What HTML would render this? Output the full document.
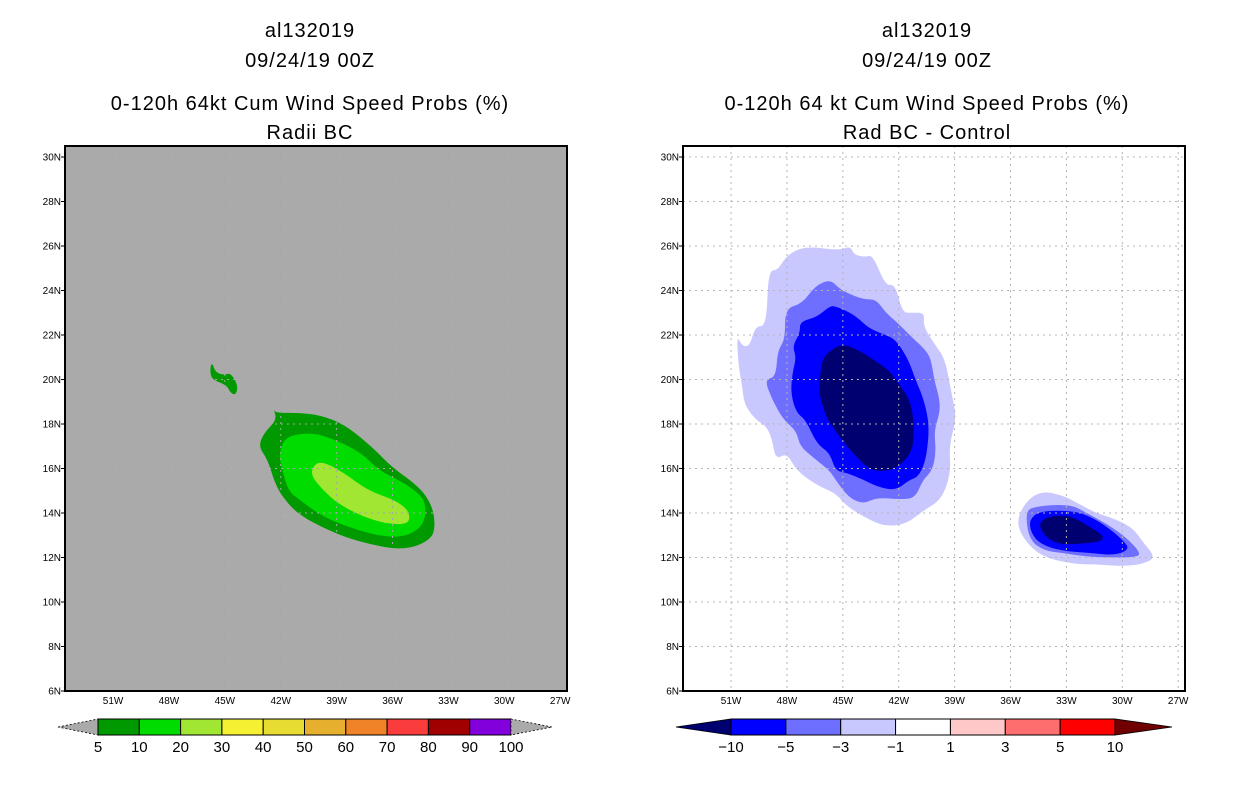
<!DOCTYPE html>
<html><head><meta charset="utf-8">
<style>
html,body{margin:0;padding:0;background:#fff;}
svg{display:block;font-family:"Liberation Sans",sans-serif;}
</style></head>
<body>
<svg id="root" width="1236" height="800" viewBox="0 0 1236 800" xmlns="http://www.w3.org/2000/svg">
<g id="titles" font-size="20" text-anchor="middle" fill="#000" letter-spacing="1">
  <text x="310" y="37">al132019</text>
  <text x="310" y="67">09/24/19 00Z</text>
  <text x="310" y="110">0-120h 64kt Cum Wind Speed Probs (%)</text>
  <text x="310" y="139">Radii BC</text>
  <text x="927" y="37">al132019</text>
  <text x="927" y="67">09/24/19 00Z</text>
  <text x="927" y="110">0-120h 64 kt Cum Wind Speed Probs (%)</text>
  <text x="927" y="139">Rad BC - Control</text>
</g>
<g id="left"></g>
<g id="right"></g>
<g id="cbL"></g>
<g id="cbR"></g>
</svg>
<script>
// ---- data (lon in degrees West, lat in degrees North) ----
const latTicks = [6,8,10,12,14,16,18,20,22,24,26,28,30];
const lonTicks = [51,48,45,42,39,36,33,30,27];

const probLevels = ["5","10","20","30","40","50","60","70","80","90","100"];
const probColors = ["#009a00","#00dc00","#a0e632","#f5f032","#e6dc32","#e6af2d","#f08228","#fa3c3c","#a00000","#8200dc"];
const diffLevels = ["-10","-5","-3","-1","1","3","5","10"];
const diffColors = ["#000070","#0000ff","#6e6eff","#c8c8ff","#ffffff","#ffc8c8","#ff6e6e","#ff0000","#700000"];

const prob5 = [[42.4,18.7],[42.3,18.5],[41.0,18.5],[39.9,18.4],[38.6,18.0],[37.0,16.9],[36.1,16.1],[34.6,15.2],[33.9,14.4],[33.7,13.5],[33.9,12.8],[35.4,12.3],[37.8,12.7],[39.4,13.2],[41.0,13.9],[41.8,14.6],[42.3,15.3],[42.7,16.4],[43.2,17.0],[42.9,17.6],[42.2,18.2]];
const prob5Island = [[45.7,20.8],[45.5,20.3],[45.0,20.2],[44.7,20.3],[44.3,19.75],[44.4,19.3],[44.7,19.4],[44.9,19.75],[45.7,20.0],[45.8,20.4]];
const prob10 = [[41.8,17.4],[40.7,17.6],[39.7,17.5],[37.8,16.8],[36.7,15.9],[35.7,15.5],[34.6,14.9],[34.2,14.4],[34.3,13.5],[35.1,13.0],[36.2,12.9],[37.8,13.2],[39.7,13.8],[41.0,14.6],[41.6,15.0],[41.9,15.9],[42.1,16.6]];
const prob20 = [[40.2,16.2],[39.7,16.3],[38.6,15.8],[37.3,15.0],[35.9,14.6],[35.1,14.1],[35.1,13.5],[36.2,13.5],[37.5,13.8],[38.9,14.4],[39.7,15.0],[40.4,15.7]];

const diffNeg1 = [[50.7,22.0],[50.4,21.5],[50.0,21.5],[49.7,22.4],[49.1,22.4],[49.0,24.9],[48.5,24.9],[48.0,25.6],[47.0,26.0],[45.2,25.8],[44.6,26.0],[44.4,25.6],[43.8,25.5],[43.4,25.6],[42.7,24.2],[42.2,24.3],[41.8,23.0],[41.3,23.0],[40.6,23.0],[40.7,22.4],[40.0,21.5],[39.5,20.9],[39.1,19.1],[38.9,18.3],[39.3,17.0],[39.2,15.8],[39.7,14.6],[40.7,14.1],[41.6,13.5],[42.7,13.4],[43.6,13.7],[44.8,14.3],[45.4,14.9],[46.3,15.2],[47.5,15.9],[48.0,16.7],[48.6,16.4],[48.8,17.3],[49.1,17.9],[49.7,18.2],[50.3,18.9],[50.4,19.7],[50.6,20.6]];
const diffNeg3 = [[49.2,20.0],[48.6,20.1],[48.5,21.3],[48.1,21.8],[48.1,23.2],[47.2,23.4],[46.5,24.2],[45.7,24.5],[45.2,24.1],[44.8,23.9],[43.9,23.6],[43.2,23.6],[42.7,23.0],[42.0,22.5],[41.3,21.9],[40.4,21.2],[40.2,20.6],[40.1,20.0],[39.8,19.1],[39.8,18.5],[40.1,17.7],[40.0,16.7],[40.2,15.9],[40.7,15.5],[41.1,14.7],[41.8,14.6],[43.2,14.7],[43.9,14.4],[44.7,14.7],[45.4,15.5],[45.7,15.9],[46.6,16.5],[47.3,17.0],[47.5,17.7],[48.2,18.2],[48.8,19.1]];
const diffNeg5 = [[47.7,21.5],[47.3,22.1],[47.3,22.6],[46.4,22.8],[45.7,23.3],[45.4,23.3],[44.6,23.0],[44.1,22.7],[43.6,22.3],[42.7,22.0],[42.2,21.8],[41.7,21.2],[41.4,20.7],[41.1,20.0],[40.7,19.2],[40.4,18.2],[40.4,17.3],[40.6,16.2],[41.0,15.6],[41.4,15.5],[42.2,15.0],[43.2,15.2],[43.9,15.5],[44.8,15.8],[45.4,15.9],[45.7,16.7],[46.4,17.1],[47.0,18.2],[47.5,18.5],[47.8,19.4],[47.7,20.3],[47.5,21.0]];
const diffNeg10 = [[46.1,20.9],[45.7,21.3],[45.0,21.6],[44.1,21.3],[43.2,20.8],[42.5,20.4],[42.0,19.8],[41.4,19.1],[41.2,18.2],[41.2,17.0],[41.6,16.4],[42.2,16.0],[42.7,15.9],[43.4,15.9],[43.9,16.2],[44.8,17.0],[45.4,17.7],[45.9,18.3],[46.3,19.4],[46.2,20.3]];
const diffB_neg1 = [[35.7,13.5],[35.3,14.4],[34.4,15.0],[33.2,14.8],[32.3,14.4],[31.4,14.0],[30.3,13.7],[29.4,13.3],[28.9,12.7],[28.2,12.0],[28.9,11.7],[30.1,11.6],[31.4,11.7],[32.6,11.7],[34.2,12.0],[35.1,12.6]];
const diffB_neg3 = [[35.2,14.0],[34.8,14.3],[32.8,14.4],[31.9,14.0],[30.8,13.5],[29.8,12.9],[29.1,12.3],[29.1,12.0],[31.6,12.0],[33.2,12.2],[34.2,12.3],[35.0,12.8]];
const diffB_neg5 = [[35.0,13.7],[34.4,14.1],[32.6,14.1],[31.6,13.8],[30.7,13.3],[30.0,12.8],[29.6,12.4],[30.3,12.1],[31.7,12.2],[33.3,12.3],[34.4,12.6],[34.9,13.1]];
const diffB_neg10 = [[34.5,13.5],[34.1,13.8],[33.3,13.9],[32.6,13.8],[32.0,13.5],[31.2,13.1],[31.0,12.9],[31.2,12.7],[32.5,12.6],[33.5,12.6],[34.2,13.0]];

// ---- axes ----
const FRAME_TOP = 146, FRAME_BOT = 691, FRAME_W = 502;
const LON_MIN = 53.58, PX_PER_LON = 18.63, PX_PER_LAT = 22.25;
function xScale(x0, lonW){ return x0 + (LON_MIN - lonW) * PX_PER_LON; }
function yScale(lat){ return FRAME_BOT - (lat - 6) * PX_PER_LAT; }
const NS = "http://www.w3.org/2000/svg";
function mk(tag, attrs, parent){
  const e = document.createElementNS(NS, tag);
  for (const k in attrs) e.setAttribute(k, attrs[k]);
  parent.appendChild(e); return e;
}
function polyPath(x0, pts){
  // smooth closed curve through midpoints
  const P = pts.map(p=>[xScale(x0,p[0]), yScale(p[1])]);
  const n = P.length;
  const mid = i => { const a=P[i%n], b=P[(i+1)%n]; return [(a[0]+b[0])/2,(a[1]+b[1])/2]; };
  let m = mid(0);
  let d = "M"+m[0].toFixed(1)+","+m[1].toFixed(1);
  for(let i=1;i<=n;i++){
    const c = P[i%n], e = mid(i);
    d += "Q"+c[0].toFixed(1)+","+c[1].toFixed(1)+" "+e[0].toFixed(1)+","+e[1].toFixed(1);
  }
  return d+"Z";
}

function drawPanel(g, x0, bg, fills, gridColor){
  const clipId = "clip"+x0;
  const cp = mk("clipPath",{id:clipId},g);
  mk("rect",{x:x0,y:FRAME_TOP,width:FRAME_W,height:FRAME_BOT-FRAME_TOP},cp);
  const bgRect = mk("rect",{x:x0,y:FRAME_TOP,width:FRAME_W,height:FRAME_BOT-FRAME_TOP,fill:bg},g);
  
  
  const fg = mk("g",{"clip-path":"url(#"+clipId+")"},g);
  fills.forEach(f=>{
    const p = mk("path",{d:polyPath(x0,f.pts),fill:f.color},fg);
    
    
  });
  const grid = mk("g",{stroke:gridColor,"stroke-width":1,"stroke-dasharray":"2,4"},g);
  
  
  lonTicks.forEach(l=>{ const x=xScale(x0,l); mk("line",{x1:x,x2:x,y1:FRAME_TOP,y2:FRAME_BOT},grid); });
  latTicks.forEach(l=>{ if(l===6) return; const y=yScale(l); mk("line",{x1:x0,x2:x0+FRAME_W,y1:y,y2:y},grid); });
  const fr = mk("rect",{x:x0,y:FRAME_TOP,width:FRAME_W,height:FRAME_BOT-FRAME_TOP,fill:"none",stroke:"#000","stroke-width":2},g);
  
  
  latTicks.forEach(l=>{
    const y=yScale(l);
    mk("line",{x1:x0-4,x2:x0,y1:y,y2:y,stroke:"#000","stroke-width":1},g);
    const t = mk("text",{x:x0-4,y:y+3.5,"font-size":10,"text-anchor":"end",fill:"#000"},g);
    t.textContent = l+"N";
    
    
  });
  lonTicks.forEach(l=>{
    const x=xScale(x0,l);
    const t = mk("text",{x:x,y:704,"font-size":10,"text-anchor":"middle",fill:"#000"},g);
    t.textContent = l+"W";
    
    
  });
}

drawPanel(document.getElementById("left"), 65, "#aaaaaa", [
  {pts:prob5, color:probColors[0], name:"prob-5-contour"},
  {pts:prob5Island, color:probColors[0], name:"prob-5-island"},
  {pts:prob10, color:probColors[1], name:"prob-10-contour"},
  {pts:prob20, color:probColors[2], name:"prob-20-contour"}
], "#a6a6a6");

drawPanel(document.getElementById("right"), 683, "#ffffff", [
  {pts:diffNeg1, color:diffColors[3], name:"diff-neg1-contour"},
  {pts:diffNeg3, color:diffColors[2], name:"diff-neg3-contour"},
  {pts:diffNeg5, color:diffColors[1], name:"diff-neg5-contour"},
  {pts:diffNeg10, color:diffColors[0], name:"diff-neg10-contour"},
  {pts:diffB_neg1, color:diffColors[3], name:"diff-east-neg1-contour"},
  {pts:diffB_neg3, color:diffColors[2], name:"diff-east-neg3-contour"},
  {pts:diffB_neg5, color:diffColors[1], name:"diff-east-neg5-contour"},
  {pts:diffB_neg10, color:diffColors[0], name:"diff-east-neg10-contour"}
], "#b4b4b4");

// ---- colorbars ----
function drawColorbar(g, xL, xR, triL, triR, colors, labels, leftTri, rightTri){
  const y0=719, y1=735, ym=727;
  const n = colors.length - (leftTri?1:0) - (rightTri?1:0);
  const w = (xR-xL)/n;
  let ci = 0;
  if(leftTri){
    const t = mk("polygon",{points:`${triL},${ym} ${xL},${y0} ${xL},${y1}`,fill:colors[ci++],stroke:"#000","stroke-width":0.8,"stroke-dasharray":leftTri==="dash"?"2,2":""},g);
    
    
  }
  for(let i=0;i<n;i++){
    const r = mk("rect",{x:xL+i*w,y:y0,width:w,height:y1-y0,fill:colors[ci++],stroke:"#000","stroke-width":1},g);
    
    
  }
  if(rightTri){
    const t = mk("polygon",{points:`${triR},${ym} ${xR},${y0} ${xR},${y1}`,fill:colors[ci++],stroke:"#000","stroke-width":0.8,"stroke-dasharray":rightTri==="dash"?"2,2":""},g);
    
    
  }
  labels.forEach((lab,i)=>{
    const t = mk("text",{x:xL+i*(xR-xL)/(labels.length-1),y:752,"font-size":15,"text-anchor":"middle",fill:"#000"},g);
    t.textContent = lab.replace("-","\u2212");
    
    
  });
}
drawColorbar(document.getElementById("cbL"), 98, 511, 58, 552, ["#aaaaaa"].concat(probColors).concat(["#aaaaaa"]), probLevels, "dash", "dash");
drawColorbar(document.getElementById("cbR"), 731, 1115, 676, 1172, diffColors, diffLevels, "solid", "solid");
</script>
</body></html>
